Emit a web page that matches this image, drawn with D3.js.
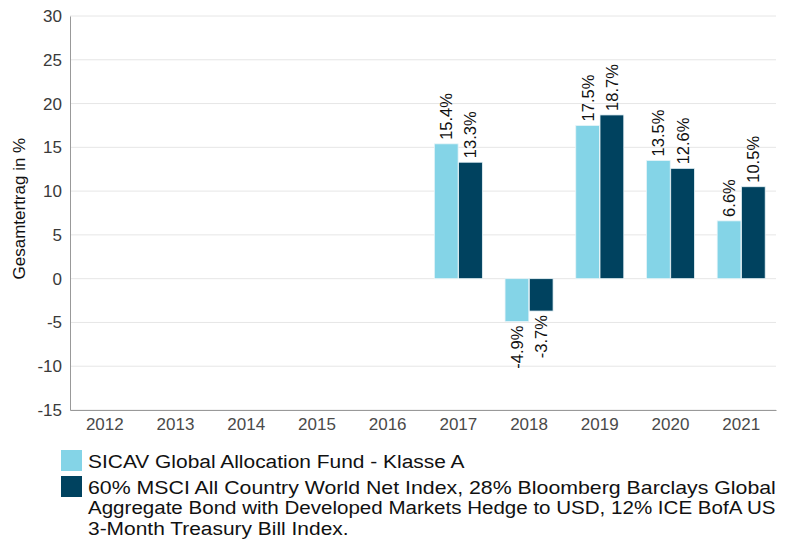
<!doctype html>
<html lang="de">

<head>
    <meta charset="utf-8">
    <title>Gesamtertrag</title>
    <script src="https://cdn.jsdelivr.net/npm/d3@7"></script>
    <style>
        body {
            margin: 0;
            background: #fff;
        }

        text {
            font-family: "Liberation Sans", Arial, sans-serif;
        }
    </style>
</head>

<body>
    <svg></svg>
    <script>
        var width = 805;
        var height = 543;
        var margin = { top: 16, right: 29, bottom: 133, left: 70 };

        var years = ['2012', '2013', '2014', '2015', '2016', '2017', '2018', '2019', '2020', '2021'];
        var fund = [null, null, null, null, null, 15.4, -4.9, 17.5, 13.5, 6.6];
        var index = [null, null, null, null, null, 13.3, -3.7, 18.7, 12.6, 10.5];
        var yTicks = [-15, -10, -5, 0, 5, 10, 15, 20, 25, 30];
        // legend text wrapped as in the picture
        var legendLines = [
            ['SICAV Global Allocation Fund - Klasse A'],
            ['60% MSCI All Country World Net Index, 28% Bloomberg Barclays Global',
                'Aggregate Bond with Developed Markets Hedge to USD, 12% ICE BofA US',
                '3-Month Treasury Bill Index.']
        ];
        var colors = ['#84d4e7', '#00425f'];

        var series = [fund, index];

        var svg = d3.select('svg').attr('width', width).attr('height', height);

        var x0 = d3.scaleBand()
            .domain(years)
            .range([margin.left, width - margin.right])
            .paddingInner(0.307)
            .paddingOuter(0.146);

        var x1 = d3.scaleBand()
            .domain([0, 1])
            .range([0, x0.bandwidth()])
            .padding(0.02);

        var y = d3.scaleLinear()
            .domain([-15, 30])
            .range([height - margin.bottom, margin.top]);

        // gridlines
        svg.append('g')
            .selectAll('line')
            .data(yTicks)
            .enter()
            .append('line')
            .attr('x1', margin.left)
            .attr('x2', width - margin.right)
            .attr('y1', function (d) { return y(d) })
            .attr('y2', function (d) { return y(d) })
            .attr('stroke', '#e6e6e6')
            .attr('stroke-width', 1);

        // y axis
        var yAxis = svg.append('g')
            .attr('transform', 'translate(' + margin.left + ',0)')
            .call(d3.axisLeft(y).tickValues(yTicks).tickSize(0).tickPadding(8)
                .tickFormat(function (d) { return String(d) }));
        yAxis.select('.domain').attr('stroke', '#999');
        yAxis.selectAll('text')
            .attr('font-size', '17px')
            .attr('fill', '#3a3a3a')
            .style('font-family', '"Liberation Sans", Arial, sans-serif');

        // x axis
        var xAxis = svg.append('g')
            .attr('transform', 'translate(0,' + y(-15) + ')')
            .call(d3.axisBottom(x0).tickSize(0).tickPadding(8));
        xAxis.select('.domain').attr('stroke', '#999');
        xAxis.selectAll('text')
            .attr('font-size', '17px')
            .attr('fill', '#4a4a4a')
            .style('font-family', '"Liberation Sans", Arial, sans-serif');

        // axis title
        svg.append('text')
            .attr('transform', 'translate(25,' + y(8) + ') rotate(-90)')
            .attr('text-anchor', 'middle')
            .attr('font-size', '17px')
            .attr('fill', '#111')
            .text('Gesamtertrag in %');

        // bars
        var groups = svg.append('g')
            .selectAll('g')
            .data(years)
            .enter()
            .append('g')
            .attr('transform', function (d) { return 'translate(' + x0(d) + ',0)' });

        var cells = function (d, i) {
            return series.map(function (s, k) { return { k: k, v: s[i] } })
                .filter(function (e) { return e.v !== null });
        };

        groups.selectAll('rect')
            .data(cells)
            .enter()
            .append('rect')
            .attr('x', function (d) { return x1(d.k) })
            .attr('width', x1.bandwidth())
            .attr('y', function (d) { return y(Math.max(0, d.v)) })
            .attr('height', function (d) { return Math.abs(y(d.v) - y(0)) })
            .attr('fill', function (d) { return colors[d.k] })
            .attr('stroke', '#e8f4f8')
            .attr('stroke-width', 0.8);

        groups.selectAll('text')
            .data(cells)
            .enter()
            .append('text')
            .attr('transform', function (d) {
                var cx = x1(d.k) + x1.bandwidth() / 2 + 6;
                var cy = d.v >= 0 ? y(d.v) - 4 : y(d.v) + 4;
                return 'translate(' + cx + ',' + cy + ') rotate(-90)';
            })
            .attr('text-anchor', function (d) { return d.v >= 0 ? 'start' : 'end' })
            .attr('font-size', '16.5px')
            .attr('fill', '#111')
            .text(function (d) { return d.v.toFixed(1) + '%' });

        // legend
        var legend = svg.append('g');
        var rowY = [450, 476];
        var textX = 88;
        var fullW = width - margin.right - textX;
        var lineEls = [];
        legendLines.forEach(function (lines, k) {
            legend.append('rect')
                .attr('x', 61)
                .attr('y', rowY[k])
                .attr('width', 21)
                .attr('height', 21)
                .attr('fill', colors[k]);
            lines.forEach(function (line, j) {
                var t = legend.append('text')
                    .attr('x', textX)
                    .attr('y', rowY[k] + 18 + j * 20.5)
                    .attr('font-size', '19px')
                    .attr('fill', '#111')
                    .text(line);
                lineEls.push({ el: t, wraps: j < lines.length - 1 });
            });
        });

        // the original lettering is wider than this font: wrapped lines run to the plot edge,
        // the rest get the mean stretch
        var scales = lineEls.filter(function (d) { return d.wraps })
            .map(function (d) { return fullW / d.el.node().getComputedTextLength() });
        var meanScale = d3.mean(scales);
        lineEls.forEach(function (d) {
            var s = d.wraps ? fullW / d.el.node().getComputedTextLength() : meanScale;
            d.el.attr('transform', 'translate(' + textX + ',0) scale(' + s + ',1) translate(' + (-textX) + ',0)');
        });
    </script>

</body>

</html>
